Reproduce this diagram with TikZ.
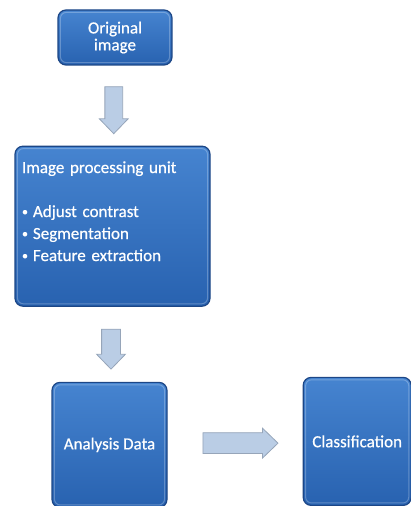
\documentclass[tikz,border=0pt]{standalone}
\usepackage{fontspec}
\setmainfont{Carlito}
\newfontfamily\boxfont{Carlito}[FakeBold=0.6]
\usepackage{xcolor}
\usetikzlibrary{shapes,arrows,positioning,calc}

\definecolor{boxtop}{RGB}{70,132,208}
\definecolor{boxbot}{RGB}{40,98,176}
\definecolor{boxedge}{RGB}{28,70,134}
\definecolor{arrfill}{RGB}{186,205,229}
\definecolor{arredge}{RGB}{150,165,185}

\newcommand{\bul}{\raisebox{1.5pt}{\fontsize{12}{12}\selectfont\textbullet}\hspace{5pt}}

\begin{document}
\begin{tikzpicture}[
    x=1pt, y=1pt,
    box/.style={rectangle, rounded corners=8pt, draw=boxedge, line width=1.2pt, top color=boxtop, bottom color=boxbot, text=white, font=\boxfont\fontsize{17}{22}\selectfont, align=center, inner sep=3pt},
    bevel/.style={rounded corners=6pt, draw=white, opacity=0.25, line width=1pt},
    fatarrow/.style={single arrow, draw=arredge, fill=arrfill, line width=0.8pt, inner xsep=0pt, single arrow tip angle=88}
]
\useasboundingbox (0,0) rectangle (411,506);

\node[box, minimum width=114pt, minimum height=55pt, font=\boxfont\fontsize{17}{17}\selectfont] (orig) at (115,468.5) {Original\\image};
\node[box, below=80pt of orig, xshift=-2.5pt, minimum height=160pt, text width=181pt, inner xsep=7pt, align=left] (ipu) {Image processing unit\\[22pt]\bul Adjust contrast\\\bul Segmentation\\\bul Feature extraction\\[8pt]\mbox{}};
\node[box, below=75pt of ipu, xshift=-3pt, minimum width=115pt, minimum height=125pt] (ana) {Analysis Data};
\node[box, right=135pt of ana, yshift=3.5pt, minimum width=108pt, minimum height=128pt] (cls) {Classification};

% light inner edge of each box
\foreach \b in {orig,ipu,ana,cls}
  \draw[bevel] ([shift={(3pt,-3pt)}]\b.north west) rectangle ([shift={(-3pt,3pt)}]\b.south east);

\node[fatarrow, rotate=-90, minimum height=47pt, inner ysep=8.5pt, single arrow head extend=5.5pt] (a1) at ($(orig.south)!0.5!(ipu.north)$) {};
\node[fatarrow, rotate=-90, minimum height=40pt, inner ysep=9pt, single arrow head extend=5pt] (a2) at ($(ipu.south)!0.5!(ana.north)$) {};
\node[fatarrow, minimum height=75pt, inner ysep=10pt, single arrow head extend=4.5pt] (a3) at ($(ana.east)!0.5!(cls.west)$) {};

\end{tikzpicture}
\end{document}
